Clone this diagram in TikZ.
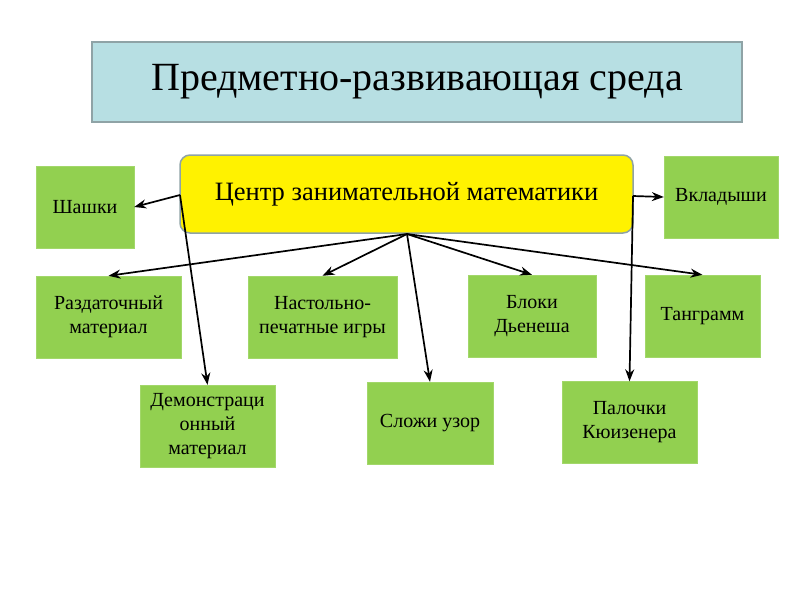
\documentclass[tikz,border=0pt]{standalone}
\usepackage{fontspec}
\setmainfont{Liberation Serif}
\usetikzlibrary{arrows.meta}

\definecolor{titleblue}{HTML}{B7DFE3}
\definecolor{leafgreen}{HTML}{92D050}
\definecolor{edgegray}{HTML}{8FA3A6}

\begin{document}
\begin{tikzpicture}[x=1pt,y=-1pt,
	leaf/.style={fill=leafgreen,draw=leafgreen!85!white,minimum width=#1,minimum height=82pt,align=center,font=\fontsize{20}{24}\selectfont,inner sep=0pt},
	link/.style={-{Stealth[length=12pt,width=9pt]},line width=1.7pt}]
	\useasboundingbox[fill=white] (0,0) rectangle (800,600);

	\node[fill=titleblue,draw=edgegray,line width=1.5pt,minimum width=650pt,minimum height=80pt,font=\fontsize{40}{46}\selectfont] (title) at (417,82) {Предметно-развивающая среда};

	\node[fill=yellow,draw=edgegray,line width=1.5pt,rounded corners=10pt,minimum width=453pt,minimum height=78pt,font=\fontsize{26.5}{30}\selectfont] (centre) at (406.5,194) {Центр занимательной математики};

	\node[leaf=98pt] (shashki) at (85,207) {Шашки};
	\node[leaf=114pt] (vklad) at (721,197) {Вкладыши};

	\node[leaf=145pt] (razd) at (108.5,317) {Раздаточный\\материал};
	\node[leaf=149pt] (nastol) at (322.5,317) {Настольно-\\печатные игры};
	\node[leaf=128pt] (bloki) at (532,316) {Блоки\\Дьенеша};
	\node[leaf=115pt] (tangr) at (702.5,316) {Танграмм};

	\node[leaf=135pt] (demo) at (207.5,426) {Демонстраци\\онный\\материал};
	\node[leaf=126pt] (uzor) at (430,423) {Сложи узор};
	\node[leaf=135pt] (palki) at (629.5,422.5) {Палочки\\Кюизенера};

	\coordinate (hub) at (407,234);
	\coordinate (lhub) at (180,195);
	\coordinate (rhub) at (633,196);

	\draw[link] (hub) -- (razd.north);
	\draw[link] (hub) -- (nastol.north);
	\draw[link] (hub) -- (uzor.north);
	\draw[link] (hub) -- (bloki.north);
	\draw[link] (hub) -- (tangr.north);

	\draw[link] (lhub) -- (shashki.east);
	\draw[link] (lhub) -- (demo.north);
	\draw[link] (rhub) -- (vklad.west);
	\draw[link] (rhub) -- (palki.north);
\end{tikzpicture}
\end{document}
